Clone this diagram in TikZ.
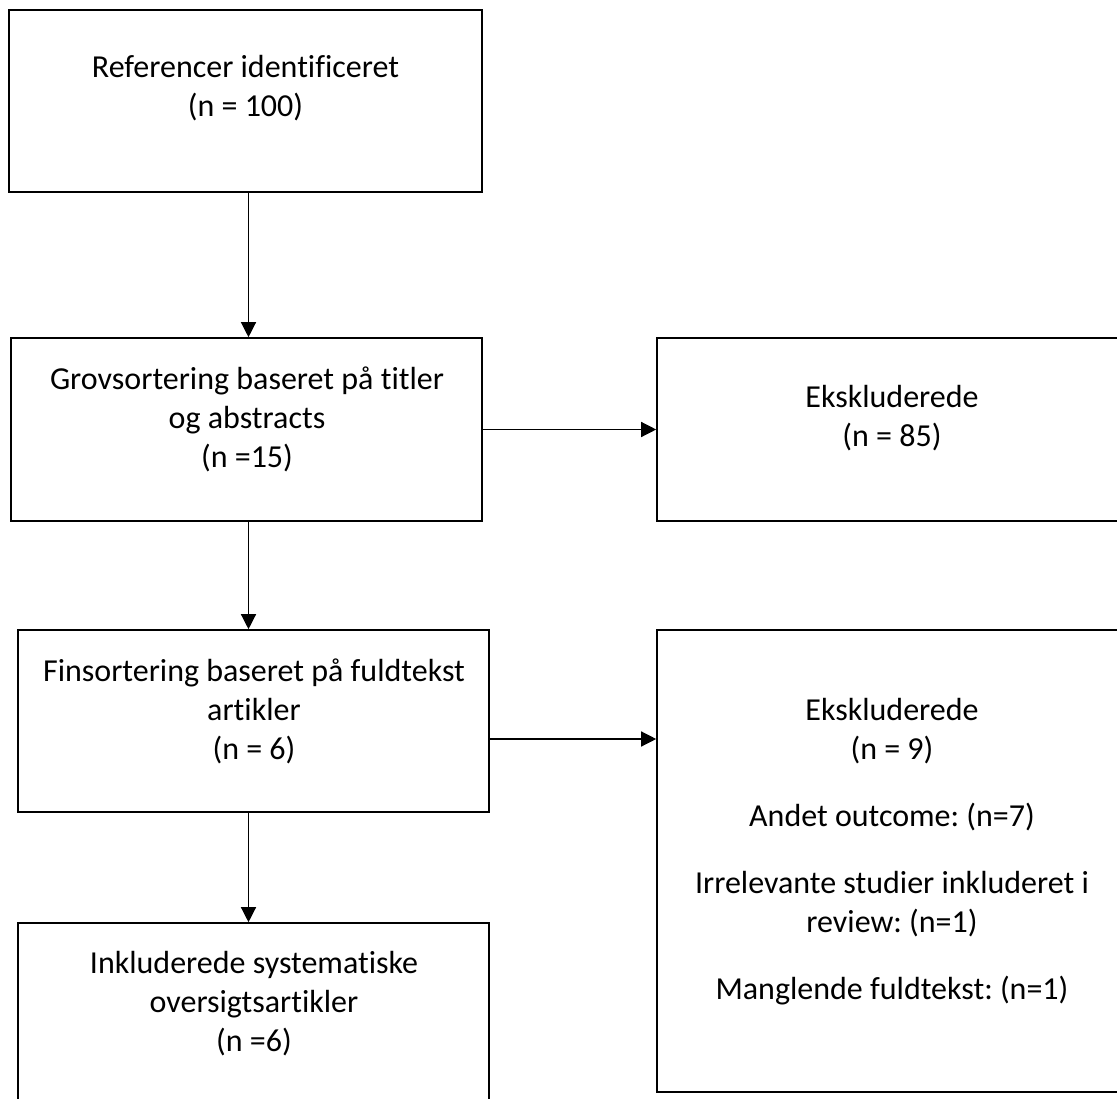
\documentclass[tikz,border=0pt]{standalone}
\usepackage{fontspec}
\setmainfont{Carlito}[Ligatures=NoCommon]
\usetikzlibrary{arrows.meta}
\frenchspacing
\begin{document}
\begin{tikzpicture}[x=1pt,y=-1pt,
  box/.style={draw=black, line width=1.6pt, fill=none, inner sep=0pt},
  txt/.style={align=center, inner sep=0pt, font=\fontsize{32}{39}\selectfont\frenchspacing, anchor=base},
  arr/.style={line width=1.3pt, -{Triangle[width=15pt,length=15pt]}}]
\useasboundingbox (0,0) rectangle (1117,1099);
\clip (0,0) rectangle (1117,1099);
% boxes
\node[box, minimum width=473pt, minimum height=182pt] (b1) at (245.5,101) {};
\node[box, minimum width=471pt, minimum height=183pt] (b2) at (246.5,429.5) {};
\node[box, minimum width=470pt, minimum height=183pt] (b3) at (892,429.5) {};
\node[box, minimum width=471pt, minimum height=182pt] (b4) at (253.5,721) {};
\node[box, minimum width=470pt, minimum height=462pt] (b5) at (892,861) {};
\node[box, minimum width=471pt, minimum height=190pt] (b6) at (253.5,1018) {};
% texts (anchored at the baseline of the last line)
\node[txt] (t1) at (245.5,117) {Referencer identificeret\\(n = 100)};
\node[txt] (t2) at (247,467) {Grovsortering baseret på titler\\og abstracts\\(n =15)};
\node[txt] (t3) at (892,446) {Ekskluderede\\(n = 85)};
\node[txt] (t4) at (254,759) {Finsortering baseret på fuldtekst\\artikler\\(n = 6)};
\node[txt] (t5) at (892,999) {Ekskluderede\\(n = 9)\\[28pt]Andet outcome: (n=7)\\[28pt]Irrelevante studier inkluderet i\\review: (n=1)\\[28pt]Manglende fuldtekst: (n=1)};
\node[txt] (t6) at (254,1051) {Inkluderede systematiske\\oversigtsartikler\\(n =6)};
% connectors
\coordinate (ax) at (248.5,0);
\coordinate (ay) at (0,739);
\draw[arr] (b1.south -| ax) -- (b2.north -| ax);
\draw[arr] (b2.south -| ax) -- (b4.north -| ax);
\draw[arr] (b4.south -| ax) -- (b6.north -| ax);
\draw[arr] (b2.east) -- (b3.west);
\draw[arr] (b4.east |- ay) -- (b5.west |- ay);
\end{tikzpicture}
\end{document}
